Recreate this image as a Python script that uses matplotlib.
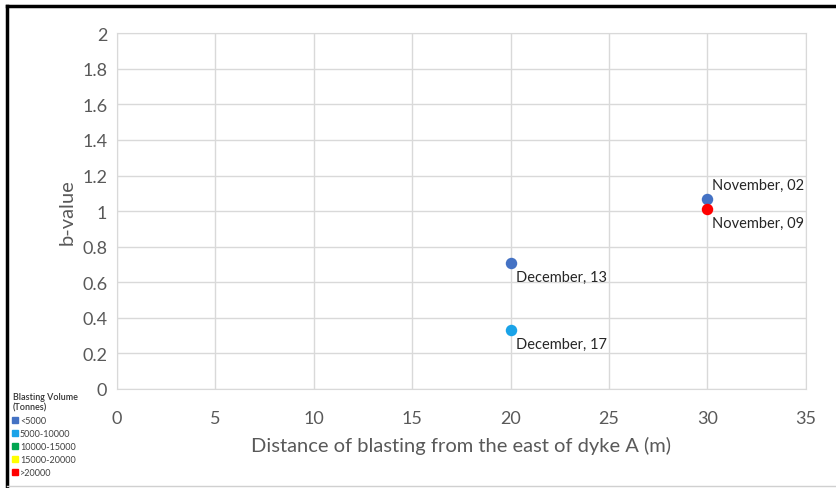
import matplotlib.pyplot as plt
from matplotlib.lines import Line2D

# blasting events: distance from dyke A (m), b-value, label, volume class
distance = [30, 30, 20, 20]
b_value = [1.07, 1.01, 0.71, 0.33]
dates = ['November, 02', 'November, 09', 'December, 13', 'December, 17']
volume_class = ['<5000', '>20000', '<5000', '5000-10000']

volume_labels = ['<5000', '5000-10000', '10000-15000', '15000-20000', '>20000']
volume_colors = ['#4472C4', '#1AA3E8', '#00A550', '#FFFF00', '#FF0000']

x_ticks = [0, 5, 10, 15, 20, 25, 30, 35]
y_ticks = [0, 0.2, 0.4, 0.6, 0.8, 1.0, 1.2, 1.4, 1.6, 1.8, 2.0]

plt.rcParams['font.family'] = ['Lato', 'DejaVu Sans']

fig = plt.figure(figsize=(8.36, 4.89), dpi=100)
ax = fig.add_axes([0.140, 0.2025, 0.824, 0.7275])

color_map = dict(zip(volume_labels, volume_colors))
for x, y, c in zip(distance, b_value, volume_class):
    ax.scatter(x, y, s=68, color=color_map[c], zorder=3, linewidths=0)

# label placement (offsets in points) - upper point label goes above
offsets = [(3, 10), (3, -10), (4, -10), (4, -10)]
for x, y, d, off in zip(distance, b_value, dates, offsets):
    ax.annotate(d, (x, y), xytext=off, textcoords='offset points',
                fontsize=10.5, color='#262626', va='center', ha='left')

ax.set_xlim(0, 35)
ax.set_ylim(0, 2)
ax.set_xticks(x_ticks)
ax.set_yticks(y_ticks)
ax.set_yticklabels(['%g' % t for t in y_ticks])
ax.grid(True, color='#D9D9D9', linewidth=1)
ax.set_axisbelow(True)
for s in ax.spines.values():
    s.set_color('#D9D9D9')
ax.tick_params(length=0, labelsize=13, labelcolor='#595959')
ax.tick_params(axis='x', pad=15)
ax.tick_params(axis='y', pad=7)

ax.set_xlabel('Distance of blasting from the east of dyke A (m)',
              fontsize=14.5, color='#595959', labelpad=7)
ax.set_ylabel('b-value', fontsize=14.5, color='#595959', labelpad=5)

# legend for blasting volume, bottom left corner
handles = [Line2D([], [], marker='s', linestyle='', markersize=4,
                  color=c) for c in volume_colors]
leg = fig.legend(handles, volume_labels, title='Blasting Volume\n(Tonnes)',
                 loc='upper left', bbox_to_anchor=(0.013, 0.199),
                 fontsize=6.5, title_fontsize=6.5, frameon=False,
                 handlelength=0.6, handletextpad=0.2, labelspacing=0.45,
                 borderpad=0.2, borderaxespad=0)
leg._legend_box.align = 'left'
leg.get_title().set_color('#333333')
leg.get_title().set_fontweight('semibold')
for t in leg.get_texts():
    t.set_color('#404040')

# picture frame
fig.add_artist(Line2D([0.008, 1.0], [0.986, 0.986], color='black', linewidth=2.5))
fig.add_artist(Line2D([0.008, 0.008], [0.0, 0.986], color='black', linewidth=2.5))
fig.add_artist(Line2D([0.008, 1.0], [0.004, 0.004], color='#D0D0D0', linewidth=1))

fig.savefig('out.png', dpi=100)
